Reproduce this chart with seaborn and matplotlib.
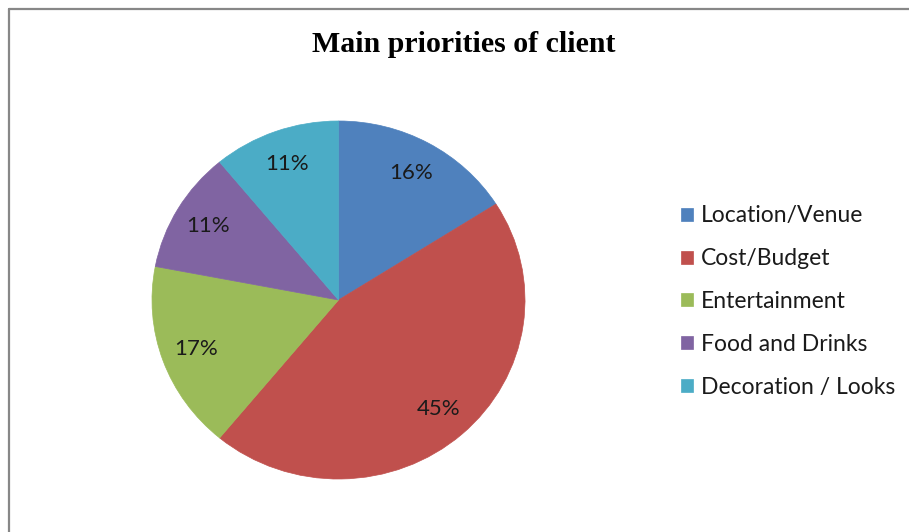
import matplotlib
matplotlib.use("Agg")
import matplotlib.pyplot as plt
from matplotlib.lines import Line2D
import seaborn as sns

# Data
categories = ["Location/Venue", "Cost/Budget", "Entertainment", "Food and Drinks", "Decoration / Looks"]
shares = [16, 45, 17, 11, 11]
colors = ["#4F81BD", "#C0504D", "#9BBB59", "#8064A2", "#4BACC6"]
title = "Main priorities of client"

sns.set_theme(style="white")
plt.rcParams['font.family'] = ['Lato', 'DejaVu Sans']

W, H = 909, 532
fig = plt.figure(figsize=(W / 100, H / 100), dpi=100)
fig.patch.set_facecolor("white")

# outer chart frame (left and top edges visible)
fig.add_artist(Line2D([8.5 / W, 8.5 / W], [0, 1 - 8.5 / H], transform=fig.transFigure,
                      color="#878787", lw=1.6))
fig.add_artist(Line2D([8.5 / W, 1], [1 - 8.5 / H, 1 - 8.5 / H], transform=fig.transFigure,
                      color="#878787", lw=1.6))

# pie axes placed in pixels: x 152-525, y 121-479
left, top, right, bottom = 152, 121, 525, 479
ax = fig.add_axes([left / W, 1 - bottom / H, (right - left) / W, (bottom - top) / H])
wedges, texts, autotexts = ax.pie(
    shares, colors=colors, startangle=90, counterclock=False,
    autopct=lambda p: f"{p:.0f}%", pctdistance=0.81, radius=1,
    wedgeprops=dict(linewidth=0.5),
    textprops=dict(fontsize=16, color="#1a1a1a"))
for w, c in zip(wedges, colors):
    w.set_edgecolor(c)
ax.set_xlim(-1, 1)
ax.set_ylim(-1, 1)
ax.set_aspect("auto")
ax.axis("off")

fig.text(463.5 / W, 1 - 45 / H, title, ha="center", va="center",
         family=["Liberation Serif", "DejaVu Serif"], fontweight="bold", fontsize=21.5,
         color="black")

leg = fig.legend(wedges, categories, loc="upper left",
                 bbox_to_anchor=(670 / W, 1 - 194 / H),
                 frameon=False, fontsize=16.5, handlelength=0.5, handleheight=0.5,
                 handletextpad=0.35, labelspacing=0.95, borderpad=0)
for t in leg.get_texts():
    t.set_color("#1a1a1a")

fig.savefig("out.png", dpi=100, facecolor="white")
